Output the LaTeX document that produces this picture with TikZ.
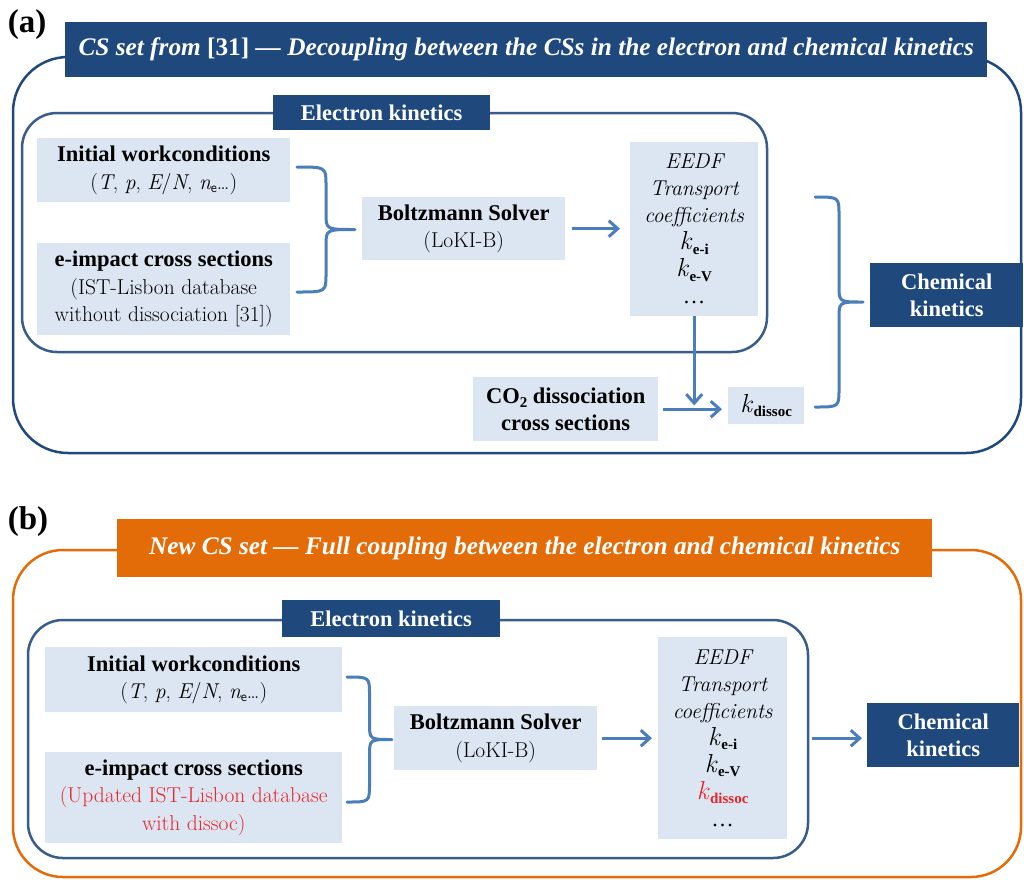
\documentclass[tikz,border=0pt]{standalone}
\usepackage{fontspec}
\newfontfamily\tnr{Liberation Serif}
\usetikzlibrary{arrows.meta}
\definecolor{dkblue}{HTML}{1F497D}
\definecolor{inblue}{HTML}{385D8A}
\definecolor{ltblue}{HTML}{DCE6F2}
\definecolor{arblue}{HTML}{4A7EBB}
\definecolor{orng}{HTML}{E36C09}
\definecolor{redtxt}{HTML}{E8262B}
\newcommand\lmt{\fontsize{21.5}{27}\selectfont}
\newcommand\ks[1]{{\fontsize{26}{26}\selectfont\itshape k}\kern1.5pt\raisebox{-4.5pt}{\fontsize{15}{15}\selectfont\tnr\bfseries #1}}
\newcommand\wcond{({\itshape T}, {\itshape p}, {\itshape E}/{\itshape N}, {\itshape n}\raisebox{-3pt}{\fontsize{14}{14}\selectfont\sffamily e}\ldots)}
\newcommand\mybrace[4]{\draw[brc] (#1,#2) .. controls ({#1+0.5*#4},#2) .. ({#1+0.5*#4},{#2+18}) -- ({#1+0.5*#4},{0.5*(#2+#3)-16}) .. controls ({#1+0.5*#4},{0.5*(#2+#3)}) .. ({#1+#4},{0.5*(#2+#3)}) .. controls ({#1+0.5*#4},{0.5*(#2+#3)}) .. ({#1+0.5*#4},{0.5*(#2+#3)+16}) -- ({#1+0.5*#4},{#3-18}) .. controls ({#1+0.5*#4},#3) .. (#1,#3);}
\begin{document}
\begin{tikzpicture}[x=1pt,y=-1pt,
  lb/.style={fill=ltblue, inner sep=0pt, anchor=north west, align=center, font=\fontsize{22.5}{27.5}\selectfont},
  db/.style={fill=dkblue, text=white, inner sep=0pt, anchor=north west, align=center, font=\fontsize{22.5}{27}\selectfont\tnr\bfseries},
  ttl/.style={inner sep=0pt, anchor=north west, text=white, font=\fontsize{25.3}{30}\selectfont\tnr\bfseries\itshape},
  frame/.style={line width=2.5pt},
  arr/.style={draw=arblue, line width=3pt, -{Straight Barb[length=9pt,width=16pt]}},
  brc/.style={draw=arblue, line width=3pt, line join=round, line cap=round},
  plab/.style={font=\fontsize{33}{33}\selectfont\tnr\bfseries, inner sep=0pt}
]
\useasboundingbox (0,0) rectangle (1024,879);
\fill[white] (0,0) rectangle (1024,879);

% ---------------- (a) ----------------
\node[plab] (labA) at (27,25) {(a)};
\draw[frame, draw=dkblue, rounded corners=55pt] (13,57) rectangle (1021,453);
\node[ttl, fill=dkblue, minimum width=922pt, minimum height=55pt] (titleA) at (65,22)
  {CS set from {\upshape[31]} — Decoupling between the CSs in the electron and chemical kinetics};
\draw[frame, draw=inblue, rounded corners=35pt] (22,113) rectangle (767,352);
\node[db, minimum width=217pt, minimum height=35pt] (ekA) at (273,95) {Electron kinetics};

\node[lb, minimum width=253pt, minimum height=64pt] (initA) at (37,138)
  {{\tnr\bfseries Initial workconditions}\\ {\lmt \wcond}};
\node[lb, minimum width=253pt, minimum height=92pt] (eimpA) at (37,243)
  {{\tnr\bfseries e-impact cross sections}\\ {\lmt (IST-Lisbon database}\\ {\lmt without dissociation [31])}};
\node[lb, minimum width=203pt, minimum height=63pt] (boltzA) at (362,197)
  {{\tnr\bfseries Boltzmann Solver}\\ {\lmt (LoKI-B)}};
\node[lb, minimum width=128pt, minimum height=174pt, font=\fontsize{22.5}{27}\selectfont] (eedfA) at (630,142)
  {{\lmt\itshape EEDF}\\ {\lmt\itshape Transport}\\ {\lmt\itshape coefficients}\\ \ks{e-i}\\ \ks{e-V}\\ {\tnr …}};
\node[lb, minimum width=185pt, minimum height=64pt] (co2A) at (473,377)
  {{\tnr\bfseries CO\raisebox{-4pt}{\fontsize{15}{15}\selectfont 2} dissociation}\\ {\tnr\bfseries cross sections}};
\node[lb, minimum width=76pt, minimum height=37pt] (kdA) at (728,387) {\ks{dissoc}};
\node[db, minimum width=153pt, minimum height=64pt] (chemA) at (870,263) {Chemical\\kinetics};

\mybrace{297}{167}{292}{58}
\mybrace{815}{197}{407}{48}
\draw[arr, shorten <=7pt, shorten >=10pt] (boltzA.east) -- (boltzA.east -| eedfA.west);
\path (eedfA.south) ++(0,89) coordinate (jA);
\draw[arr] (eedfA.south) -- (jA);
\draw[arr, shorten <=5pt, shorten >=6pt] (co2A.east) -- (co2A.east -| kdA.west);

% ---------------- (b) ----------------
\node[plab] (labB) at (28,522) {(b)};
\draw[frame, draw=orng, rounded corners=50pt] (13,550) rectangle (1021,877);
\node[ttl, fill=orng, minimum width=815pt, minimum height=58pt] (titleB) at (117,519)
  {New CS set — Full coupling between the electron and chemical kinetics};
\draw[frame, draw=inblue, rounded corners=35pt] (28,620) rectangle (808,858);
\node[db, minimum width=218pt, minimum height=37pt] (ekB) at (282,600) {Electron kinetics};

\node[lb, minimum width=297pt, minimum height=65pt] (initB) at (45,647)
  {{\tnr\bfseries Initial workconditions}\\ {\lmt \wcond}};
\node[lb, minimum width=297pt, minimum height=91pt] (eimpB) at (45,752)
  {{\tnr\bfseries e-impact cross sections}\\ {\lmt\color{redtxt}(Updated IST-Lisbon database}\\ {\lmt\color{redtxt}with dissoc)}};
\node[lb, minimum width=203pt, minimum height=64pt] (boltzB) at (394,706)
  {{\tnr\bfseries Boltzmann Solver}\\ {\lmt (LoKI-B)}};
\node[lb, minimum width=129pt, minimum height=202pt, font=\fontsize{22.5}{27}\selectfont] (eedfB) at (658,637)
  {{\lmt\itshape EEDF}\\ {\lmt\itshape Transport}\\ {\lmt\itshape coefficients}\\ \ks{e-i}\\ \ks{e-V}\\ {\color{redtxt}\ks{dissoc}}\\ {\tnr …}};
\node[db, minimum width=152pt, minimum height=64pt] (chemB) at (867,703) {Chemical\\kinetics};

\mybrace{347}{677}{802}{45}
\draw[arr, shorten <=5pt, shorten >=6pt] (boltzB.east) -- (boltzB.east -| eedfB.west);
\draw[arr, shorten <=25pt, shorten >=5pt] (eedfB.east) -- (eedfB.east -| chemB.west);
\end{tikzpicture}
\end{document}
